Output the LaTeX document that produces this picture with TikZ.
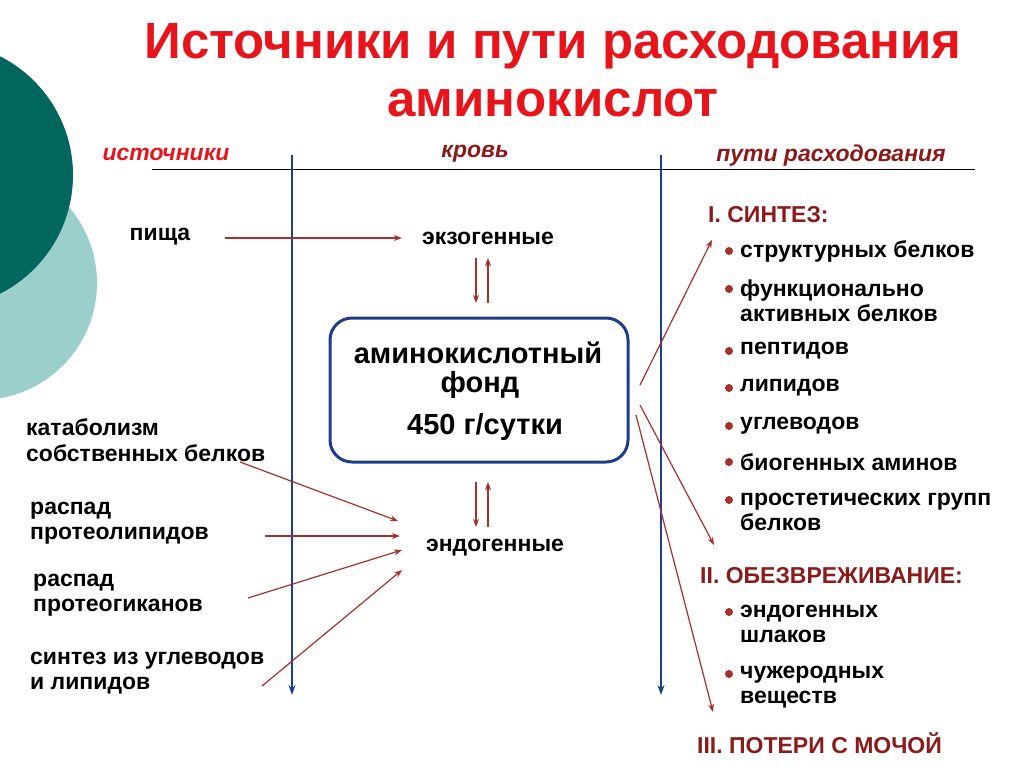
\documentclass[tikz,border=0pt]{standalone}
\usepackage{fontspec}
\setmainfont{Liberation Sans}
\usetikzlibrary{arrows.meta}
\definecolor{ttl}{HTML}{E8141C}
\definecolor{drk}{HTML}{8B1A1A}
\definecolor{arr}{HTML}{A8302A}
\definecolor{bl}{HTML}{1F3D8F}
\definecolor{tealA}{HTML}{00665E}
\definecolor{tealB}{HTML}{9ACFCC}
\begin{document}
\begin{tikzpicture}[x=1pt,y=-1pt,
  txt/.style={font=\fontsize{23}{25.5}\selectfont\bfseries,inner sep=0pt},
  lt/.style={txt,anchor=west,align=left},
  hd/.style={txt,font=\fontsize{23}{25}\selectfont\bfseries\itshape},
  bx/.style={txt,font=\fontsize{29}{30}\selectfont\bfseries},
  ar/.style={draw=arr,line width=1.2pt,-{Stealth[length=8pt,width=6pt]}},
  vl/.style={draw=bl,line width=1.6pt,-{Stealth[length=10pt,width=7pt]}},
  dot/.style={circle,fill=arr,minimum size=8pt,inner sep=0pt}]
\useasboundingbox (0,0) rectangle (1024,767);
\fill[tealB] (-20,283) circle (117);
\fill[tealA] (-60,175) circle (133);
\node[font=\fontsize{51}{58}\selectfont\bfseries,text=ttl,align=center] (title) at (553,70) {Источники и пути расходования\\аминокислот};
\node[hd,text=ttl] (h1) at (166,154) {источники};
\node[hd,text=drk] (h2) at (475,154) {кровь};
\node[hd,text=drk] (h3) at (831,156) {пути расходования};
\coordinate (hl) at (152,170); \coordinate (hr) at (975,170);
\draw[line width=1pt] (hl) -- (hr);
\coordinate (v1a) at (292,155); \coordinate (v1b) at (292,695);
\coordinate (v2a) at (661,155); \coordinate (v2b) at (661,695);
\draw[vl] (v1a) -- (v1b);
\draw[vl] (v2a) -- (v2b);
\node[txt] (food) at (160,237) {пища};
\node[txt] (exo) at (488,238) {экзогенные};
\draw[ar] (225,238) -- ([xshift=-20pt]exo.west);
\draw[ar] (476,258) -- (476,303);
\draw[ar] (488,303) -- (488,258);
\node[draw=bl,line width=3pt,rounded corners=22pt,minimum width=298pt,minimum height=144pt] (box) at (479,390) {};
\node[bx] (b1) at (478,353) {аминокислотный};
\node[bx] (b2) at (480,385) {фонд};
\node[bx] (b3) at (485,427) {450 г/сутки};
\draw[ar] (476,482) -- (476,527);
\draw[ar] (488,527) -- (488,482);
\node[txt] (endo) at (495,548) {эндогенные};
\node[lt] (s1) at (26,440) {катаболизм\\собственных белков};
\node[lt] (s2) at (30,523) {распад\\протеолипидов};
\node[lt] (s3) at (33,595) {распад\\протеогиканов};
\node[lt] (s4) at (30,673) {синтез из углеводов\\и липидов};
\draw[ar] (240,462) -- (398,521);
\draw[ar] (265,536) -- (400,536);
\draw[ar] (248,598) -- (402,550);
\draw[ar] (262,686) -- (402,570);
\node[lt,text=drk] (r1) at (708,215) {I. СИНТЕЗ:};
\node[lt,text=drk] (r2) at (700,576) {II. ОБЕЗВРЕЖИВАНИЕ:};
\node[lt,text=drk] (r3) at (697,743) {III. ПОТЕРИ С МОЧОЙ};
\draw[ar] (640,385) -- (712,240);
\draw[ar] (640,405) -- (714,545);
\draw[ar] (636,415) -- (713,712);
\foreach \y/\t [count=\i] in {251/{структурных белков},301/{функционально\\активных белков},351/пептидов,388/липидов,426/углеводов,462/{биогенных аминов},512/{простетических групп\\белков},624/{эндогенных\\шлаков},687/{чужеродных\\веществ}}{
  \node[lt] (it\i) at (740,\y) {\t};
}
\foreach \y [count=\i] in {251,289,351,388,426,462,500,612,674}{
  \node[dot] (d\i) at (729,\y) {};
}
\end{tikzpicture}
\end{document}
